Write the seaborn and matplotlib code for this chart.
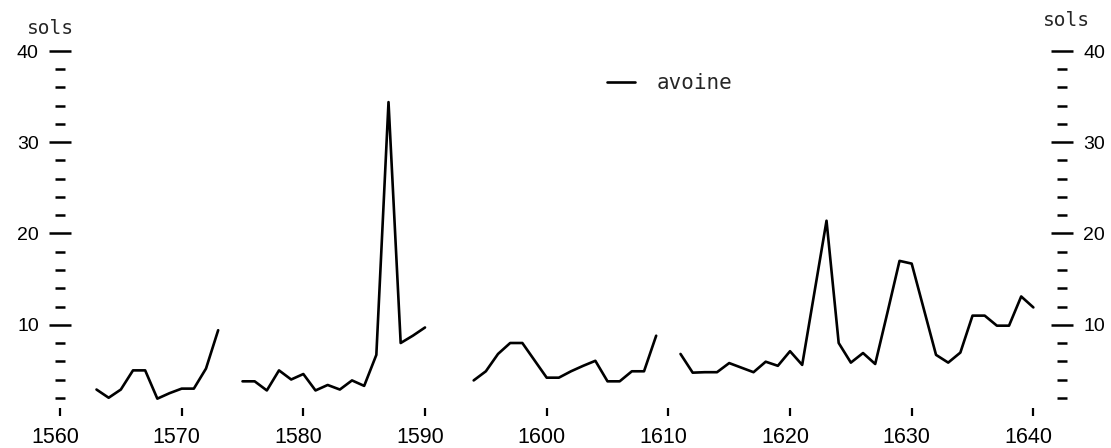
#!/usr/bin/env python3
import pandas as pd
import matplotlib.pyplot as plt
import matplotlib.transforms as mtransforms
import seaborn as sns

sns.set_theme(style="white")
plt.rcParams['font.family'] = ['Liberation Sans', 'DejaVu Sans']

# prix de l'avoine (sols), par segment continu
years_1 = list(range(1563, 1574))
avoine_1 = [2.9, 2.0, 2.9, 5.0, 5.0, 1.9, 2.5, 3.0, 3.0, 5.2, 9.4]

years_2 = list(range(1575, 1591))
avoine_2 = [3.8, 3.8, 2.8, 5.0, 4.0, 4.6, 2.8, 3.4, 2.9, 3.9, 3.3, 6.7, 34.4, 8.0, 8.8, 9.7]

years_3 = list(range(1594, 1610))
avoine_3 = [3.9, 4.9, 6.8, 8.0, 8.0, 6.1, 4.2, 4.2, 4.9, 5.5, 6.05, 3.8, 3.8, 4.9, 4.9, 8.8]

years_4 = list(range(1611, 1641))
avoine_4 = [6.8, 4.75, 4.8, 4.8, 5.8, 5.3, 4.8, 5.95, 5.5, 7.1, 5.6, 13.5, 21.4, 8.0, 5.85,
            6.9, 5.7, 11.3, 17.0, 16.7, 11.7, 6.7, 5.85, 6.95, 11.0, 11.0, 9.9, 9.9, 13.1, 11.9]

x_ticks = list(range(1560, 1641, 10))
y_major = [10, 20, 30, 40]
y_minor = [v for v in range(2, 40, 2) if v % 10 != 0]

frames = []
for i, (yrs, vals) in enumerate([(years_1, avoine_1), (years_2, avoine_2),
                                 (years_3, avoine_3), (years_4, avoine_4)]):
    frames.append(pd.DataFrame({"annee": yrs, "prix": vals, "segment": i}))
df = pd.concat(frames, ignore_index=True)

fig = plt.figure(figsize=(11.11, 4.48), dpi=100)
ax = fig.add_axes([60 / 1111, 32 / 448, (1062 - 60) / 1111, (416 - 51) / 448])

sns.lineplot(data=df, x="annee", y="prix", units="segment", estimator=None,
             color="black", linewidth=1.9, ax=ax, label="avoine")

ax.set_xlim(1560, 1560 + (1062 - 60) / 12.167)
ax.set_ylim(0, 40)
for s in ax.spines.values():
    s.set_visible(False)

ax.set_xticks(x_ticks)
ax.set_yticks(y_major)
ax.set_yticks(y_minor, minor=True)
ax.set_xlabel("")
ax.set_ylabel("")

ax.tick_params(axis="x", direction="in", length=6, width=1.6, pad=8, bottom=True,
               labelsize=15.5, colors="black")
ax.tick_params(axis="y", which="major", direction="inout", length=16.5, width=1.8,
               left=True, right=True, labelleft=True, labelright=True,
               pad=7, labelsize=14, colors="black")
ax.tick_params(axis="y", which="minor", direction="inout", length=7.5, width=1.8,
               left=True, right=True, colors="black")

# les etiquettes des annees sont un peu decalees vers la gauche
off = mtransforms.ScaledTranslation(-5 / 100, 0, fig.dpi_scale_trans)
for lab in ax.get_xticklabels():
    lab.set_transform(lab.get_transform() + off)

fig.text(50 / 1111, 1 - 28 / 448, "sols", family="DejaVu Sans Mono", fontsize=14,
         ha="center", va="center")
fig.text(1066 / 1111, 1 - 21 / 448, "sols", family="DejaVu Sans Mono", fontsize=14,
         ha="center", va="center")

handles, labels = ax.get_legend_handles_labels()
ax.legend(handles[:1], labels[:1], loc="center left",
          bbox_to_anchor=(607 / 1111, 1 - 83 / 448),
          bbox_transform=fig.transFigure, frameon=False, borderpad=0,
          borderaxespad=0, handlelength=1.35, handletextpad=1.05,
          prop={"family": "DejaVu Sans Mono", "size": 15})

fig.savefig("out.png", dpi=100)
